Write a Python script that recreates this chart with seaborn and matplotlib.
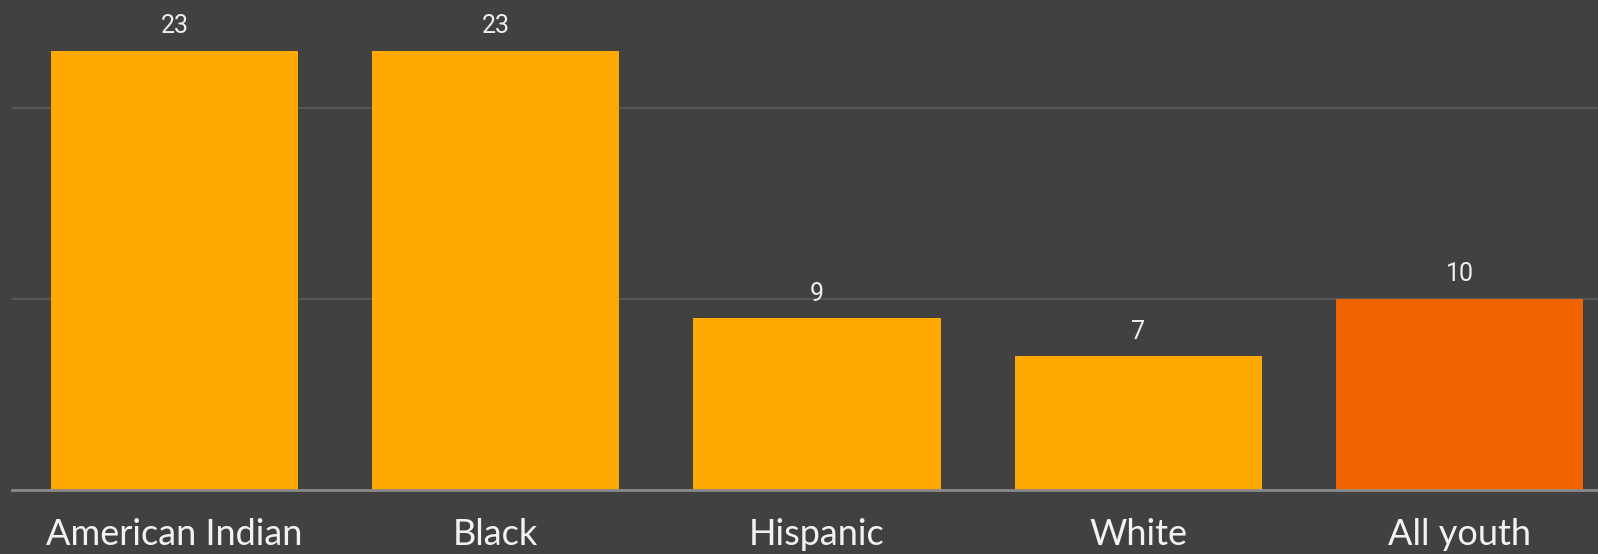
import matplotlib
matplotlib.use("Agg")
import matplotlib.pyplot as plt
import seaborn as sns
import pandas as pd

categories = ["American Indian", "Black", "Hispanic", "White", "All youth"]
values = [23, 23, 9, 7, 10]
bar_colors = ["#FFA800", "#FFA800", "#FFA800", "#FFA800", "#F06400"]

BG = "#414141"
sns.set_theme(style="dark")
plt.rcParams["font.family"] = ["Lato", "DejaVu Sans"]

df = pd.DataFrame({"group": categories, "value": values})

fig = plt.figure(figsize=(15.98, 5.54), dpi=100, facecolor=BG)
ax = fig.add_axes([12 / 1598, (554 - 490) / 554, (1598 - 12) / 1598, 490 / 554])
ax.set_facecolor(BG)

sns.barplot(data=df, x="group", y="value", hue="group", palette=bar_colors,
            width=0.77, legend=False, ax=ax, saturation=1, zorder=3,
            linewidth=0, edgecolor="none")

ax.set_xlim(-0.506, 4.431)
ax.set_ylim(0, 25.65)
ax.set_yticks([10, 20])
ax.set_yticklabels([])
ax.tick_params(axis="y", length=0)
ax.yaxis.grid(True, color="#575757", linewidth=1.5, zorder=0)
ax.xaxis.grid(False)
for s in ["top", "right", "left"]:
    ax.spines[s].set_visible(False)
ax.spines["bottom"].set_color("#8a8a8a")
ax.spines["bottom"].set_linewidth(2)
ax.spines["bottom"].set_zorder(4)

ax.set_xlabel("")
ax.set_ylabel("")
ax.tick_params(axis="x", length=0, pad=20, labelsize=26, labelcolor="#F2F2F2")

for i, v in enumerate(values):
    ax.annotate(str(v), (i, v), xytext=(0, 9), textcoords="offset points",
                ha="center", va="bottom", color="#EEEEEE", fontsize=18,
                family=["Roboto", "DejaVu Sans"])

fig.savefig("out.png", dpi=100, facecolor=BG)
